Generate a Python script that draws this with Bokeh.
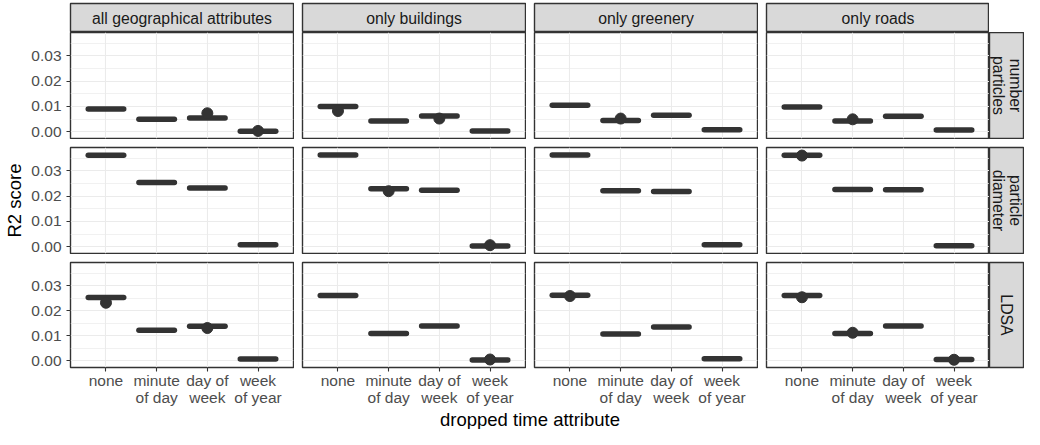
import math
from bokeh.plotting import figure
from bokeh.layouts import column, row
from bokeh.models import (Range1d, FactorRange, FixedTicker, PrintfTickFormatter,
                          Label, ColumnDataSource, Spacer)
from bokeh.transform import dodge
from bokeh.embed import file_html
from bokeh.resources import INLINE

FONT = "Liberation Sans"

# ---------------- data ----------------
time_attributes = ["none", "minute\nof day", "day of\nweek", "week\nof year"]
geo_sets = ["all geographical attributes", "only buildings", "only greenery", "only roads"]
targets = ["number\nparticles", "particle\ndiameter", "LDSA"]

# median R2 score: one list per geo set, values per dropped time attribute
number_particles_median = [
    [0.0090, 0.0049, 0.0054, 0.0002],
    [0.0100, 0.0042, 0.0062, 0.0003],
    [0.0105, 0.0044, 0.0065, 0.0008],
    [0.0098, 0.0042, 0.0061, 0.0007],
]
particle_diameter_median = [
    [0.0362, 0.0254, 0.0233, 0.0008],
    [0.0363, 0.0230, 0.0224, 0.0003],
    [0.0363, 0.0222, 0.0219, 0.0008],
    [0.0362, 0.0227, 0.0226, 0.0004],
]
ldsa_median = [
    [0.0253, 0.0122, 0.0138, 0.0007],
    [0.0261, 0.0109, 0.0139, 0.0003],
    [0.0262, 0.0107, 0.0135, 0.0008],
    [0.0261, 0.0109, 0.0139, 0.0005],
]
# outliers: (geo set index, time attribute index, R2 score)
number_particles_outliers = [(0, 2, 0.0073), (0, 3, 0.0003), (1, 0, 0.0082),
                             (1, 2, 0.0052), (2, 1, 0.0052), (3, 1, 0.0049)]
particle_diameter_outliers = [(1, 1, 0.0220), (1, 3, 0.0006), (3, 0, 0.0361)]
ldsa_outliers = [(0, 0, 0.0232), (0, 2, 0.0131), (1, 3, 0.0005), (2, 0, 0.0259),
                 (3, 0, 0.0254), (3, 1, 0.0112), (3, 3, 0.0004)]

medians_by_target = [number_particles_median, particle_diameter_median, ldsa_median]
outliers_by_target = [number_particles_outliers, particle_diameter_outliers, ldsa_outliers]

# ---------------- geometry / style ----------------
L, W, G, S = 70, 223, 9, 35
TOP_PAD, STRIP_H, H, XAX, XT_H = 3, 29, 106, 40, 21
INK = "#333333"
GRID = "#EBEBEB"
STRIP_FILL = "#D9D9D9"
TICK_COLOR = "#4D4D4D"
Y_RANGE = (-0.0027, 0.0393)


def base_fig(width, height, left, right, top, bottom, **kw):
    return figure(width=width, height=height, output_backend="svg", toolbar_location=None,
                  title=None, min_border_left=left, min_border_right=right,
                  min_border_top=top, min_border_bottom=bottom, **kw)


def make_panel(r, c):
    left = L if c == 0 else G - 1
    right = 1 if c < 3 else 0
    top = 0 if r == 0 else G - 1
    bottom = 1 if r < 2 else XAX
    p = base_fig(left + W + right, top + H + bottom, left, right, top, bottom,
                 x_range=FactorRange(factors=time_attributes, range_padding=0.2,
                                     range_padding_units="absolute"),
                 y_range=Range1d(*Y_RANGE))
    p.background_fill_color = "white"
    p.border_fill_color = "white"
    p.outline_line_color = INK
    p.outline_line_width = 1.4

    # grid
    p.xgrid.grid_line_color = GRID
    p.xgrid.grid_line_width = 1.1
    p.ygrid.ticker = FixedTicker(ticks=[0, 0.01, 0.02, 0.03],
                                 minor_ticks=[-0.005, 0.005, 0.015, 0.025, 0.035])
    p.ygrid.grid_line_color = GRID
    p.ygrid.grid_line_width = 1.1
    p.ygrid.minor_grid_line_color = GRID
    p.ygrid.minor_grid_line_width = 0.7

    # y axis
    if c == 0:
        ax = p.yaxis[0]
        ax.ticker = FixedTicker(ticks=[0, 0.01, 0.02, 0.03])
        ax.formatter = PrintfTickFormatter(format="%.2f")
        ax.axis_line_color = None
        ax.major_tick_line_color = INK
        ax.major_tick_line_width = 1.1
        ax.major_tick_in = 0
        ax.major_tick_out = 4
        ax.minor_tick_line_color = None
        ax.major_label_standoff = 5
        ax.major_label_text_font = FONT
        ax.major_label_text_font_size = "15.5px"
        ax.major_label_text_color = TICK_COLOR
        if r == 1:
            ax.axis_label = "R2 score"
            ax.axis_label_text_font = FONT
            ax.axis_label_text_font_size = "18.5px"
            ax.axis_label_text_font_style = "normal"
            ax.axis_label_text_color = "black"
            ax.axis_label_standoff = 3
    else:
        p.yaxis.visible = False

    # x axis
    if r == 2:
        ax = p.xaxis[0]
        ax.axis_line_color = None
        ax.major_tick_line_color = INK
        ax.major_tick_line_width = 1.1
        ax.major_tick_in = 0
        ax.major_tick_out = 4
        ax.minor_tick_line_color = None
        ax.major_label_standoff = 0
        ax.major_label_text_font = FONT
        ax.major_label_text_font_size = "15.5px"
        ax.major_label_text_color = TICK_COLOR
        ax.major_label_text_line_height = 1.0
        ax.major_label_orientation = "horizontal"
    else:
        p.xaxis.visible = False

    med = medians_by_target[r][c]
    box_src = ColumnDataSource(dict(t=time_attributes, m=med))
    p.segment(x0=dodge("t", -0.35, range=p.x_range), y0="m",
              x1=dodge("t", 0.35, range=p.x_range), y1="m",
              source=box_src, line_color=INK, line_width=5.5, line_cap="round")

    outs = [o for o in outliers_by_target[r] if o[0] == c]
    out_src = ColumnDataSource(dict(t=[time_attributes[o[1]] for o in outs],
                                    v=[o[2] for o in outs]))
    p.scatter(x="t", y="v", source=out_src, size=11, fill_color=INK, line_color=INK)
    return p


def make_strip(text, width, height, left, right, top, bottom, vertical=False):
    s = base_fig(width, height, left, right, top, bottom,
                 x_range=Range1d(0, 1), y_range=Range1d(0, 1))
    s.axis.visible = False
    s.grid.visible = False
    s.background_fill_color = STRIP_FILL
    s.border_fill_color = "white"
    s.outline_line_color = INK
    s.outline_line_width = 1.4
    s.add_layout(Label(x=0.5, y=0.5, text=text, text_align="center", text_baseline="middle",
                       angle=(-math.pi / 2 if vertical else 0), text_font=FONT,
                       text_font_size="15.8px", text_color="#1A1A1A",
                       text_line_height=1.0))
    return s


# top strips
top_strips = []
for c, name in enumerate(geo_sets):
    left = L if c == 0 else G - 1
    right = 1 if c < 3 else 0
    top_strips.append(make_strip(name, left + W + right, TOP_PAD + STRIP_H, left, right, TOP_PAD, 0))

rows = [row(*top_strips, Spacer(width=S, height=TOP_PAD + STRIP_H))]
for r in range(3):
    top = 0 if r == 0 else G - 1
    bottom = 1 if r < 2 else XAX
    panels = [make_panel(r, c) for c in range(4)]
    side = make_strip(targets[r], S, top + H + bottom, 0, 1, top, bottom, vertical=True)
    rows.append(row(*panels, side))

# x-axis title
xt = base_fig(L + 4 * W + 3 * G, XT_H, L, 0, 0, 0,
              x_range=Range1d(0, 1), y_range=Range1d(0, 1))
xt.axis.visible = False
xt.grid.visible = False
xt.outline_line_color = None
xt.background_fill_color = "white"
xt.border_fill_color = "white"
xt.add_layout(Label(x=0.5, y=0.5, text="dropped time attribute", text_align="center",
                    text_baseline="middle", text_font=FONT, text_font_size="18.5px",
                    text_color="black"))
rows.append(row(xt))

layout = column(*rows)
open("out.html", "w").write(file_html(layout, INLINE, title="R2 score facets"))
